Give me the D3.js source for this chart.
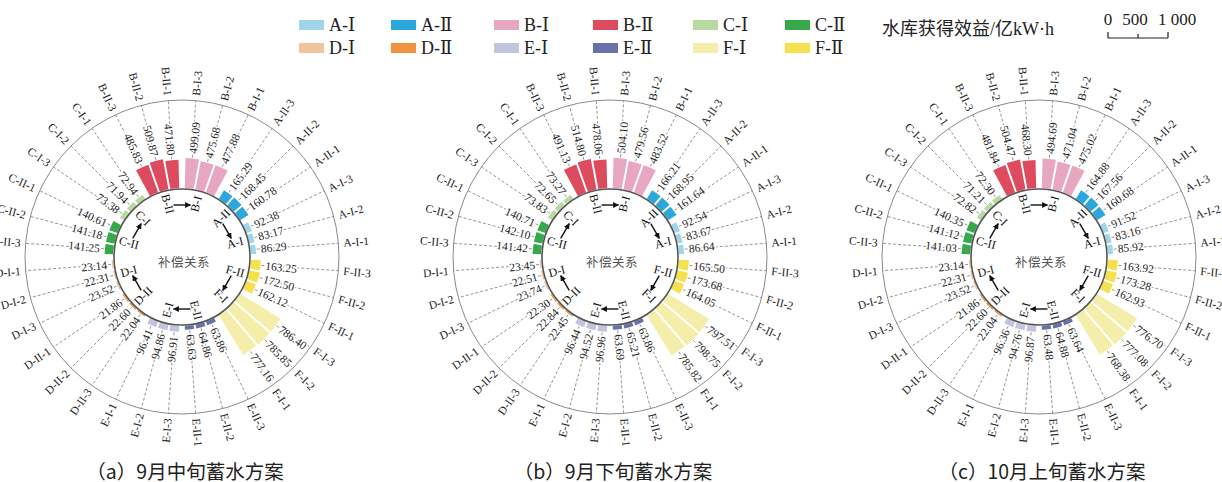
<!DOCTYPE html>
<html><head><meta charset="utf-8">
<script src="https://cdn.jsdelivr.net/npm/d3@7"></script>
<style>
html,body{margin:0;padding:0;background:#fff;}
svg{display:block;}
</style></head>
<body>
<svg id="chart" width="1222" height="482"></svg>
<script>
// ---------- DATA ----------
const groups = ["A","B","C","D","E","F"];
const subLevels = ["I","II"];
const categories = [
 "A-I-1","A-I-2","A-I-3","A-II-1","A-II-2","A-II-3",
 "B-I-1","B-I-2","B-I-3","B-II-1","B-II-2","B-II-3",
 "C-I-1","C-I-2","C-I-3","C-II-1","C-II-2","C-II-3",
 "D-I-1","D-I-2","D-I-3","D-II-1","D-II-2","D-II-3",
 "E-I-1","E-I-2","E-I-3","E-II-1","E-II-2","E-II-3",
 "F-I-1","F-I-2","F-I-3","F-II-1","F-II-2","F-II-3"
];
const valuesSepMid = [
 86.29, 83.17, 92.38, 160.78, 168.45, 165.29,
 477.88, 475.68, 499.09, 471.80, 509.87, 485.83,
 72.94, 71.94, 73.38, 140.61, 141.18, 141.25,
 23.14, 22.31, 23.52, 21.86, 22.60, 22.04,
 96.41, 94.86, 96.91, 63.63, 64.86, 63.86,
 777.16, 785.85, 786.40, 162.12, 172.50, 163.25
];
const valuesSepLate = [
 86.64, 83.67, 92.54, 161.64, 168.95, 166.21,
 483.52, 479.56, 504.10, 478.06, 514.80, 491.13,
 73.27, 72.65, 73.83, 140.71, 142.10, 141.42,
 23.45, 22.51, 23.74, 22.30, 22.84, 22.45,
 96.44, 94.52, 96.96, 63.69, 65.21, 63.86,
 785.82, 798.75, 797.51, 164.05, 173.68, 165.50
];
const valuesOctEarly = [
 85.92, 83.16, 91.52, 160.68, 167.56, 164.88,
 475.02, 471.04, 494.69, 468.30, 504.47, 481.84,
 72.30, 71.21, 72.82, 140.35, 141.12, 141.03,
 23.14, 22.31, 23.52, 21.86, 22.60, 22.04,
 96.36, 94.76, 96.87, 63.48, 64.88, 63.64,
 768.38, 777.08, 776.70, 162.93, 173.28, 163.92
];
const captions = ["（a）9月中旬蓄水方案","（b）9月下旬蓄水方案","（c）10月上旬蓄水方案"];
const legendLabels = ["A-Ⅰ","A-Ⅱ","B-Ⅰ","B-Ⅱ","C-Ⅰ","C-Ⅱ","D-Ⅰ","D-Ⅱ","E-Ⅰ","E-Ⅱ","F-Ⅰ","F-Ⅱ"];
const colors = ["#9fd4ea","#2aa7dd","#e8a7c1","#de4a5e","#b8d9a0","#37a94c",
                "#f0c59b","#ef9340","#c2c3dc","#6772a8","#f5eeaa","#f5e14c"];
const centerText = "补偿关系";
const unitTitle = "水库获得效益/亿kW·h";
const scaleTicks = [0, 500, 1000];
const scaleTickLabels = ["0", "500", "1 000"];

// ---------- LAYOUT ----------
const svg = d3.select("#chart");
const serif = "'Liberation Serif','Times New Roman',serif";
const cjk = "'Noto Sans CJK SC',sans-serif";
const R_OUT = 157, R_IN = 68, BAR0 = 69;
const cy = 257;
const centers = [182, 610, 1039];
const lenScale = d3.scaleLinear().domain([0, 1000]).range([0, 60]);
const rad = d => d * Math.PI / 180;

svg.append("defs").append("marker")
  .attr("id","arr").attr("viewBox","0 0 10 10").attr("refX",9).attr("refY",5)
  .attr("markerWidth",6).attr("markerHeight",6).attr("orient","auto")
  .attr("markerUnits","userSpaceOnUse")
  .append("path").attr("d","M0,0 L10,5 L0,10 z").attr("fill","#111");

function drawChart(values, cx, caption) {
  const g = svg.append("g").attr("transform", `translate(${cx},${cy})`);
  const P = (thetaDeg, r) => [r * Math.cos(rad(thetaDeg)), -r * Math.sin(rad(thetaDeg))];
  const items = categories.map((c, i) => {
    const s = Math.floor(i / 3), j = i % 3;
    const slot = 5 + 10 * i;
    const barAng = 15 + 30 * s + (j - 1) * 9;
    return {c, i, s, v: values[i], slot, barAng, color: colors[s]};
  });

  // outer circle
  g.append("circle").attr("r", R_OUT).attr("fill","none").attr("stroke","#8a8a8a").attr("stroke-width",1);

  // dashed leader lines
  g.selectAll("line.lead").data(items).enter().append("line")
    .attr("class","lead")
    .attr("x1", d => P(d.barAng, BAR0 + lenScale(d.v) + 1)[0])
    .attr("y1", d => P(d.barAng, BAR0 + lenScale(d.v) + 1)[1])
    .attr("x2", d => P(d.slot, R_OUT)[0])
    .attr("y2", d => P(d.slot, R_OUT)[1])
    .attr("stroke","#7a7a7a").attr("stroke-width",0.8).attr("stroke-dasharray","3,2");

  // bars
  const arc = d3.arc().padAngle(0.026).padRadius(75);
  g.selectAll("path.bar").data(items).enter().append("path")
    .attr("class","bar")
    .attr("d", d => arc({
      innerRadius: BAR0, outerRadius: BAR0 + lenScale(d.v),
      startAngle: rad(90 - d.barAng - 4.5), endAngle: rad(90 - d.barAng + 4.5)
    }))
    .attr("fill", d => d.color);

  // inner circle
  g.append("circle").attr("r", R_IN).attr("fill","none").attr("stroke","#555").attr("stroke-width",1.6);

  const radialText = (sel, angFn, rFn, anchorOut) => {
    sel.attr("transform", d => {
      const a = angFn(d), p = P(a, rFn(d));
      const right = Math.cos(rad(a)) > 0;
      return `translate(${p[0]},${p[1]}) rotate(${right ? -a : 180 - a})`;
    })
    .attr("text-anchor", d => {
      if (anchorOut === "middle") return "middle";
      const right = Math.cos(rad(angFn(d))) > 0;
      return right ? "start" : "end";
    })
    .attr("dominant-baseline","central");
  };

  // value labels
  g.selectAll("text.val").data(items).enter().append("text")
    .attr("class","val")
    .attr("font-family", serif).attr("font-size", 11.5).attr("fill","#222")
    .attr("stroke","#fff").attr("stroke-width",3).attr("paint-order","stroke")
    .text(d => d.v.toFixed(2))
    .call(radialText, d => d.barAng, d => BAR0 + lenScale(d.v) + 5, "out");

  // category labels
  g.selectAll("text.cat").data(items).enter().append("text")
    .attr("class","cat")
    .attr("font-family", serif).attr("font-size", 11.5).attr("fill","#222")
    .text(d => d.c)
    .call(radialText, d => d.slot, () => R_OUT + 5, "out");

  // inner compensation labels
  const inner = [];
  groups.forEach((gr, k) => {
    const cAng = 30 + 60 * k;
    inner.push({t: gr + "-" + subLevels[0], a: cAng - 15});
    inner.push({t: gr + "-" + subLevels[1], a: cAng + 15});
  });
  g.selectAll("text.inn").data(inner).enter().append("text")
    .attr("class","inn")
    .attr("font-family", serif).attr("font-size", 12).attr("fill","#111")
    .text(d => d.t)
    .call(radialText, d => d.a, () => 55, "middle");

  // arrows II -> I (clockwise)
  groups.forEach((gr, k) => {
    const a = 30 + 60 * k, r = 52;
    const p = P(a, r);
    const t = [Math.sin(rad(a)), Math.cos(rad(a))];
    g.append("line")
      .attr("x1", p[0] - 8.5 * t[0]).attr("y1", p[1] - 8.5 * t[1])
      .attr("x2", p[0] + 8.5 * t[0]).attr("y2", p[1] + 8.5 * t[1])
      .attr("stroke","#111").attr("stroke-width",1.4).attr("marker-end","url(#arr)");
  });

  g.append("text").attr("x", 2).attr("y", 4)
    .attr("text-anchor","middle").attr("dominant-baseline","central")
    .attr("font-family", cjk).attr("font-size", 12.5).attr("fill","#555")
    .attr("letter-spacing", 0.5)
    .text(centerText);

  svg.append("text").attr("x", cx + 3).attr("y", 470)
    .attr("text-anchor","middle").attr("dominant-baseline","central")
    .attr("font-family", cjk).attr("font-size", 19.5).attr("fill","#222")
    .text(caption);
}

drawChart(valuesSepMid, centers[0], captions[0]);
drawChart(valuesSepLate, centers[1], captions[1]);
drawChart(valuesOctEarly, centers[2], captions[2]);

// ---------- LEGEND ----------
const colX = [299, 391, 494, 593, 693, 785];
const rowY = [25, 48];
const lg = svg.append("g");
legendLabels.forEach((lab, i) => {
  const x = colX[i % 6], y = rowY[Math.floor(i / 6)];
  lg.append("rect").attr("x", x).attr("y", y - 5).attr("width", 25).attr("height", 10).attr("fill", colors[i]);
  lg.append("text").attr("x", x + 30).attr("y", y).attr("dominant-baseline","central")
    .attr("font-family", "'Liberation Serif','DejaVu Serif','Noto Sans CJK SC',serif")
    .attr("font-size", 18).attr("fill","#222").text(lab);
});
lg.append("text").attr("x", 882).attr("y", 29).attr("dominant-baseline","central")
  .attr("font-family", "'Liberation Serif','Noto Sans CJK SC',serif").attr("font-size", 18).attr("fill","#222")
  .text(unitTitle);

const sbX = d3.scaleLinear().domain([0, 1000]).range([1108, 1108 + lenScale(1000)]);
const sb = svg.append("g");
sb.append("line").attr("x1", sbX(0)).attr("x2", sbX(1000)).attr("y1", 38).attr("y2", 38)
  .attr("stroke","#222").attr("stroke-width",1.2);
scaleTicks.forEach((t, i) => {
  sb.append("line").attr("x1", sbX(t)).attr("x2", sbX(t)).attr("y1", 38).attr("y2", i === 1 ? 34 : 32)
    .attr("stroke","#222").attr("stroke-width",1.2);
  const last = i === scaleTicks.length - 1;
  sb.append("text").attr("x", last ? sbX(t) - 10 : sbX(t) - (i === 1 ? 3 : 0)).attr("y", 19)
    .attr("text-anchor", last ? "start" : "middle").attr("dominant-baseline","central")
    .attr("font-family", serif).attr("font-size", 17).attr("fill","#222")
    .text(scaleTickLabels[i]);
});
</script>
</body></html>
